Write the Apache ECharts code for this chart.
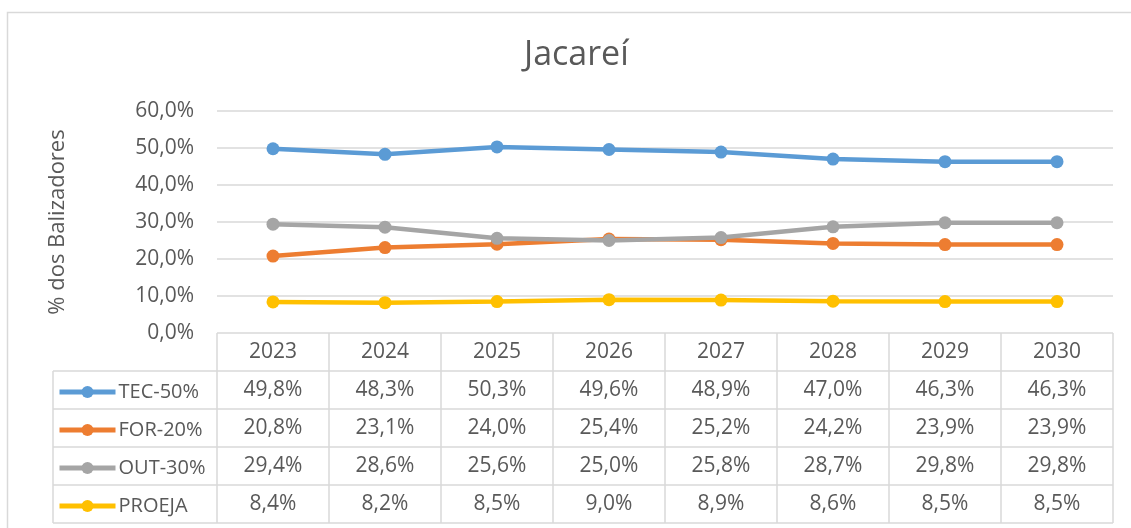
<!DOCTYPE html>
<html>
<head>
<meta charset="utf-8">
<title>Jacareí</title>
<script src="https://cdn.jsdelivr.net/npm/echarts@6/dist/echarts.min.js"></script>
<style>
  html, body { margin: 0; padding: 0; background: #fff; }
  #chart { width: 1131px; height: 528px; }
</style>
</head>
<body>
<div id="chart"></div>
<script>
// dados do gráfico
var anos = ['2023', '2024', '2025', '2026', '2027', '2028', '2029', '2030']
var tec = [49.8, 48.3, 50.3, 49.6, 48.9, 47.0, 46.3, 46.3]
var forr = [20.8, 23.1, 24.0, 25.4, 25.2, 24.2, 23.9, 23.9]
var out = [29.4, 28.6, 25.6, 25.0, 25.8, 28.7, 29.8, 29.8]
var proeja = [8.4, 8.2, 8.5, 9.0, 8.9, 8.6, 8.5, 8.5]
var nomes = ['TEC-50%', 'FOR-20%', 'OUT-30%', 'PROEJA']
var cores = ['#5B9BD5', '#ED7D31', '#A5A5A5', '#FFC000']
var valores = [tec, forr, out, proeja]

// layout (px)
var plotLeft = 217
var plotRight = 1113
var plotTop = 111
var plotBottom = 333
var tableLeft = 53
var rowH = 38
var fonte = '"Open Sans", Lato, sans-serif'
var cinza = '#595959'
var linha = '#D9D9D9'
var tam = 21

function pct (v) {
  return v.toFixed(1).replace('.', ',') + '%'
}

var myChart = echarts.init(document.getElementById('chart'))

// linhas da tabela de dados
var graficos = []
graficos.push({
  type: 'rect',
  shape: { x: 7.5, y: 12.5, width: 1140, height: 530 },
  style: { fill: 'none', stroke: linha, lineWidth: 1.5 },
  silent: true
})
var tableBottom = plotBottom + rowH * (valores.length + 1)
for (var r = 1; r <= valores.length + 1; r++) {
  var y = plotBottom + rowH * r
  graficos.push({
    type: 'line',
    shape: { x1: tableLeft, y1: y, x2: plotRight, y2: y },
    style: { stroke: linha, lineWidth: 1.5 },
    silent: true
  })
}
graficos.push({
  type: 'line',
  shape: { x1: tableLeft, y1: plotBottom + rowH, x2: tableLeft, y2: tableBottom },
  style: { stroke: linha, lineWidth: 1.5 },
  silent: true
})
var colW = (plotRight - plotLeft) / anos.length
for (var c = 0; c <= anos.length; c++) {
  var x = plotLeft + colW * c
  graficos.push({
    type: 'line',
    shape: { x1: x, y1: plotBottom, x2: x, y2: tableBottom },
    style: { stroke: linha, lineWidth: 1.5 },
    silent: true
  })
}

var series = nomes.map(function (nome, i) {
  return {
    name: nome,
    type: 'line',
    data: valores[i],
    symbol: 'circle',
    symbolSize: 13,
    color: cores[i],
    lineStyle: { width: 4.5, color: cores[i] },
    itemStyle: { color: cores[i] },
    z: 2 + i
  }
})

// uma legenda por linha da tabela
var legendas = nomes.map(function (nome, i) {
  return {
    orient: 'vertical',
    left: 57,
    top: plotBottom + rowH * (i + 1) + rowH / 2 - 8,
    padding: 0,
    itemWidth: 56,
    itemHeight: 15,
    data: [nome],
    lineStyle: { width: 5 },
    textStyle: { color: cinza, fontSize: 20, fontFamily: fonte, padding: [0, 0, 0, -2] }
  }
})

myChart.setOption({
  animation: false,
  textStyle: { fontFamily: fonte },
  title: {
    text: 'Jacareí',
    left: 519,
    top: 33,
    textStyle: { color: cinza, fontWeight: 'normal', fontSize: 34, fontFamily: fonte }
  },
  legend: legendas,
  grid: {
    left: plotLeft,
    right: 1131 - plotRight,
    top: plotTop,
    bottom: 528 - plotBottom
  },
  xAxis: {
    type: 'category',
    data: anos,
    boundaryGap: true,
    axisLine: { show: false },
    axisTick: { show: false },
    axisLabel: {
      interval: 0,
      margin: 0,
      lineHeight: rowH,
      fontSize: tam,
      color: cinza,
      fontFamily: fonte,
      formatter: function (ano, idx) {
        var linhas = [ano]
        valores.forEach(function (s) { linhas.push(pct(s[idx])) })
        return linhas.join('\n')
      }
    }
  },
  yAxis: {
    type: 'value',
    min: 0,
    max: 60,
    interval: 10,
    name: '% dos Balizadores',
    nameLocation: 'middle',
    nameRotate: 90,
    nameGap: 148,
    nameTextStyle: { color: cinza, fontSize: 22, fontFamily: fonte },
    axisLine: { show: false },
    axisTick: { show: false },
    axisLabel: {
      margin: 23,
      fontSize: tam,
      color: cinza,
      fontFamily: fonte,
      formatter: function (v) { return pct(v) }
    },
    splitLine: { show: true, lineStyle: { color: linha, width: 1.5 } }
  },
  graphic: graficos,
  series: series
})
</script>
</body>
</html>
